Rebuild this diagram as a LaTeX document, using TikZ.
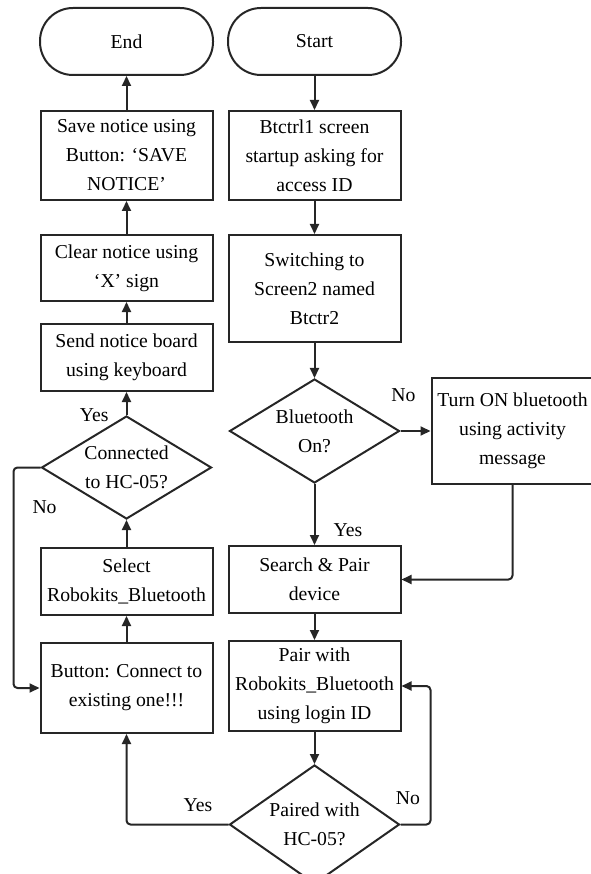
\documentclass[tikz,border=0pt]{standalone}
\usepackage{fontspec}
\setmainfont{Liberation Serif}
\usetikzlibrary{arrows.meta, positioning, shapes.geometric}

\begin{document}
\begin{tikzpicture}[
  x=1pt, y=1pt,
  every node/.style={align=center, font=\fontsize{19.7}{29}\selectfont, line width=2pt},
  box/.style={draw=black!85, rectangle, minimum width=172pt, inner sep=2pt},
  terminal/.style={draw=black!85, rectangle, rounded corners=33pt, minimum width=173pt, minimum height=67pt},
  decision/.style={draw=black!85, diamond, inner sep=0pt, minimum width=170pt},
  arrow/.style={-{Triangle[length=10pt,width=9pt]}, line width=2pt, draw=black!85},
  lbl/.style={inner sep=0pt}
]
\useasboundingbox (0,0) rectangle (590,-874);

% Nodes: left column
\node[terminal] (end) at (126.5,-41.5) {End};
\node[box, minimum height=89pt] (save) [below=34pt of end] {Save notice using \\ Button: `SAVE \\ NOTICE'};
\node[box, minimum height=66pt] (clear) [below=33pt of save] {Clear notice using \\ `X' sign};
\node[box, minimum height=67pt] (send) [below=21pt of clear] {Send notice board \\ using keyboard};
\node[decision, minimum height=103pt, shape aspect=1.66] (conn) [below=23pt of send] {Connected \\ to HC-05?};
\node[box, minimum height=67pt] (select) [below=27pt of conn] {Select \\ Robokits\_Bluetooth};
\node[box, minimum height=90pt] (button) [below=26pt of select] {Button: Connect to \\ existing one!!!};

% Nodes: right column
\node[terminal] (start) [right=13pt of end] {Start};
\node[box, minimum height=89pt] (btctrl) [below=34pt of start] {Btctrl1 screen \\ startup asking for \\ access ID};
\node[box, minimum height=107pt] (switch) [below=33pt of btctrl] {Switching to \\ Screen2 named \\ Btctr2};
\node[decision, minimum height=104pt, shape aspect=1.63] (bt) [below=35pt of switch] {Bluetooth \\ On?};
\node[box, minimum width=162pt, minimum height=106pt] (turnon) [right=30pt of bt] {Turn ON bluetooth \\ using activity \\ message};
\node[box, minimum height=67pt] (search) [below=61pt of bt] {Search \& Pair \\ device};
\node[box, minimum height=90pt] (pairwith) [below=26pt of search] {Pair with \\ Robokits\_Bluetooth \\ using login ID};
\node[decision, minimum height=119pt, shape aspect=1.42] (paired) [below=32pt of pairwith] {Paired with \\ HC-05?};

% Arrows
\draw [arrow] (start) -- (btctrl);
\draw [arrow] (btctrl) -- (switch);
\draw [arrow] (switch) -- (bt);
\draw [arrow] (bt) -- node[lbl, pos=0.1, above=28pt] {No} (turnon);
\draw [arrow] (bt) -- node[lbl, pos=0.75, anchor=west, xshift=18pt] {Yes} (search);
\draw [arrow, rounded corners=4pt] (turnon.south) |- (search.east);
\draw [arrow] (search) -- (pairwith);
\draw [arrow] (pairwith) -- (paired);
\draw [arrow, rounded corners=4pt] (paired.west) -| node[lbl, pos=0.15, above=12pt] {Yes} (button.south);
\draw [arrow, rounded corners=4pt] (paired.east) -- node[lbl, pos=0.25, above=19pt] {No} ++(30,0) |- (pairwith.east);
\draw [arrow] (button) -- (select);
\draw [arrow] (select) -- (conn);
\draw [arrow] (conn) -- node[lbl, pos=0, left=17pt] {Yes} (send);
\draw [arrow, rounded corners=4pt] (conn.west) -- ++(-27,0) |- node[lbl, pos=0.09, right=18pt] {No} (button.west);
\draw [arrow] (send) -- (clear);
\draw [arrow] (clear) -- (save);
\draw [arrow] (save) -- (end);

\end{tikzpicture}
\end{document}
